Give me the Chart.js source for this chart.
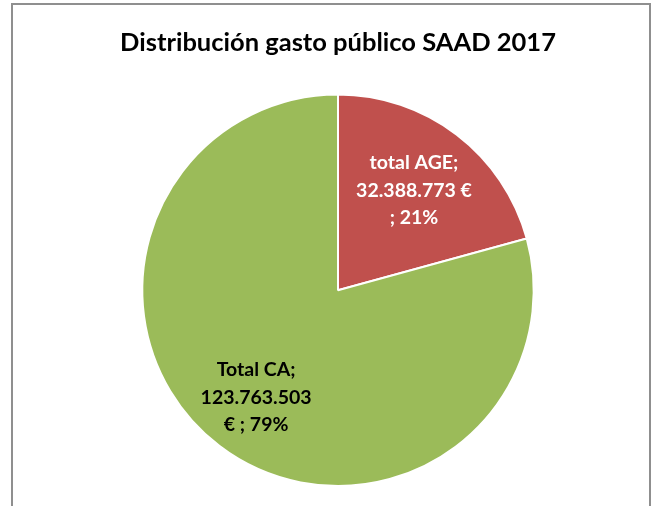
<!DOCTYPE html>
<html>
<head>
<meta charset="utf-8">
<script src="https://cdn.jsdelivr.net/npm/chart.js@4/dist/chart.umd.min.js"></script>
<style>
    html, body { margin: 0; padding: 0; background: #fff; overflow: hidden; }
    #frame { position: absolute; left: 11px; top: 3px; width: 636px; height: 530px; border: 2px solid #8f8f8f; }
    #c { position: absolute; left: 0; top: 0; }
</style>
</head>
<body>
<div id="frame"></div>
<canvas id="c" width="660" height="506"></canvas>
<script>
// Datos del gráfico
const categories = ['total AGE', 'Total CA'];
const values = [32388773, 123763503];
const sliceColors = ['#C0504D', '#9BBB59'];
const labelColors = ['#ffffff', '#000000'];
// posición de etiqueta como fracción del radio
const labelRadius = [0.64, 0.69];
// el símbolo € baja a la línea siguiente
const euroOnNextLine = [false, true];

const total = values.reduce((a, b) => a + b, 0);

function fmtNum(v) {
    return String(v).replace(/\B(?=(\d{3})+(?!\d))/g, '.');
}

function labelLines(i) {
    const pct = Math.round(values[i] / total * 100);
    if (euroOnNextLine[i]) {
        return [categories[i] + ';', fmtNum(values[i]), '€ ; ' + pct + '%'];
    }
    return [categories[i] + ';', fmtNum(values[i]) + ' €', '; ' + pct + '%'];
}

// Etiquetas de datos dentro de cada sector
const sliceLabels = {
    id: 'sliceLabels',
    afterDatasetsDraw(chart) {
        const ctx = chart.ctx;
        const meta = chart.getDatasetMeta(0);
        ctx.save();
        ctx.font = 'bold 19.5px Lato';
        ctx.textAlign = 'center';
        ctx.textBaseline = 'middle';
        meta.data.forEach((arc, i) => {
            const p = arc.getProps(['x', 'y', 'startAngle', 'endAngle', 'outerRadius'], true);
            const mid = (p.startAngle + p.endAngle) / 2;
            const cx = p.x + Math.cos(mid) * p.outerRadius * labelRadius[i];
            const cy = p.y + Math.sin(mid) * p.outerRadius * labelRadius[i];
            const lines = labelLines(i);
            const lh = 27.5;
            ctx.fillStyle = labelColors[i];
            lines.forEach((t, k) => {
                ctx.fillText(t, cx, cy + (k - (lines.length - 1) / 2) * lh);
            });
        });
        ctx.restore();
    }
};

new Chart(document.getElementById('c'), {
    type: 'pie',
    data: {
        labels: categories,
        datasets: [{
            data: values,
            backgroundColor: sliceColors,
            borderColor: '#ffffff',
            borderWidth: 2
        }]
    },
    options: {
        responsive: false,
        animation: false,
        layout: { padding: { top: 0, bottom: 19, left: 20, right: 4 } },
        plugins: {
            legend: { display: false },
            tooltip: { enabled: false },
            title: {
                display: true,
                text: 'Distribución gasto público SAAD 2017',
                color: '#000000',
                font: { family: 'Lato', size: 25.5, weight: 'bold', lineHeight: 1.2 },
                padding: { top: 27, bottom: 36 }
            }
        }
    },
    plugins: [sliceLabels]
});
</script>
</body>
</html>
